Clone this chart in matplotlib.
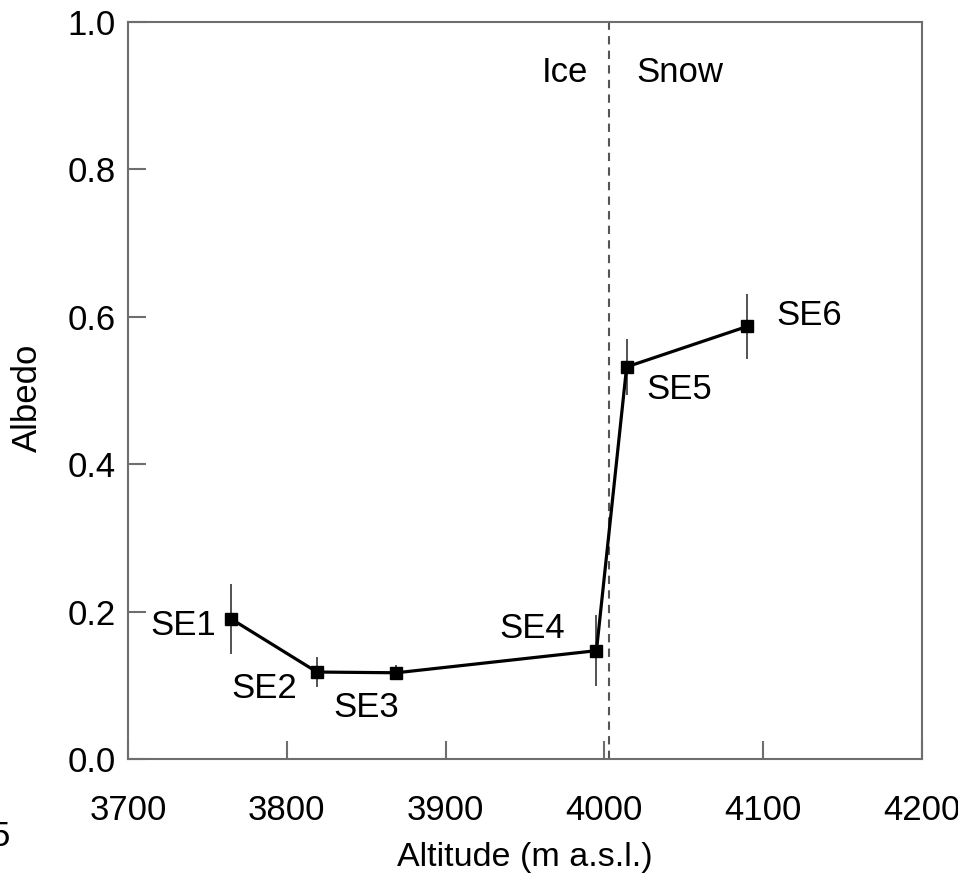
import matplotlib
matplotlib.use("Agg")
import matplotlib.pyplot as plt

plt.rcParams['font.family'] = ['Liberation Sans', 'DejaVu Sans']

sites = ["SE1", "SE2", "SE3", "SE4", "SE5", "SE6"]
altitude = [3765, 3819, 3869, 3995, 4014, 4090]
albedo = [0.190, 0.118, 0.117, 0.147, 0.532, 0.587]
albedo_err = [0.047, 0.020, 0.010, 0.048, 0.038, 0.044]
ice_snow_line = 4003
# label offsets in points (dx, dy), alignment
label_pos = [(-11, -5, 'right'), (-14, -12, 'right'), (-22, -25, 'center'),
             (-23, 16, 'right'), (14, -16, 'left'), (21, 8, 'left')]

fs = 25

fig = plt.figure(figsize=(9.58, 8.73), dpi=100)
ax = fig.add_axes([128 / 958, 1 - 759 / 873, (922 - 128) / 958, (759 - 22) / 873])

spine_col = '#6e6e6e'
ax.axvline(ice_snow_line, color='#555555', ls=(0, (4, 3)), lw=1.5, zorder=1)
ax.errorbar(altitude, albedo, yerr=albedo_err, fmt='none', ecolor='#444444',
            elinewidth=1.3, capsize=0, zorder=2)
ax.plot(altitude, albedo, color='black', lw=2.3, marker='s', ms=9,
        markerfacecolor='black', zorder=3)

for name, x, y, (dx, dy, ha) in zip(sites, altitude, albedo, label_pos):
    ax.annotate(name, xy=(x, y), xytext=(dx, dy), textcoords='offset points',
                ha=ha, va='center', fontsize=fs)

ax.text(ice_snow_line - 13, 0.932, "Ice", ha='right', va='center', fontsize=fs)
ax.text(ice_snow_line + 17, 0.932, "Snow", ha='left', va='center', fontsize=fs)

ax.set_xlim(3700, 4200)
ax.set_ylim(0, 1.0)
ax.set_xticks([3700, 3800, 3900, 4000, 4100, 4200])
ax.set_yticks([0.0, 0.2, 0.4, 0.6, 0.8, 1.0])
ax.set_yticklabels(["0.0", "0.2", "0.4", "0.6", "0.8", "1.0"])

for s in ax.spines.values():
    s.set_color(spine_col)
    s.set_linewidth(1.5)
ax.tick_params(axis='x', direction='in', length=13, width=1.5, color=spine_col,
               labelsize=fs, pad=25.5)
ax.tick_params(axis='y', direction='in', length=13, width=1.5, color=spine_col,
               labelsize=fs, pad=9)

ax.set_xlabel("Altitude (m a.s.l.)", fontsize=24.5, labelpad=10.5)
ax.set_ylabel("Albedo", fontsize=25)
ax.yaxis.set_label_coords(-0.106, 0.49, transform=ax.transAxes)

fig.text(-9 / 958, 1 - 837 / 873, "5", fontsize=fs, va='center', ha='left')

fig.savefig("out.png", dpi=100)
